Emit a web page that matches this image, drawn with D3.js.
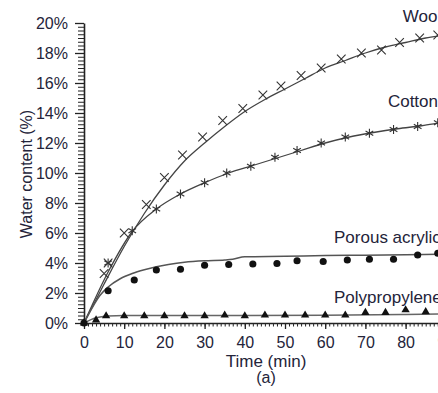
<!DOCTYPE html>
<html>
<head>
<script src="https://d3js.org/d3.v7.min.js"></script>
<style>
  body { margin: 0; background: #fff; }
  text { font-family: Arial, "Liberation Sans", sans-serif; fill: #24243a; }
</style>
</head>
<body>
<div id="chart"></div>
<script>
// measured points (time in min, water content in %)
const woolTime = [5, 6, 10, 15.5, 20, 24.5, 29.5, 34.5, 39.5, 44.5, 49, 54, 59, 64, 69, 74, 78.5, 83.5, 88];
const woolValue = [3.3, 4.0, 6.0, 7.9, 9.7, 11.2, 12.4, 13.5, 14.3, 15.2, 15.8, 16.5, 17.0, 17.6, 18.0, 18.2, 18.7, 19.0, 19.2];

const cottonTime = [6, 12, 18, 24, 30, 35.5, 41.5, 47.5, 53, 59, 65, 71, 77, 83, 88];
const cottonValue = [4.0, 6.15, 7.6, 8.6, 9.35, 10.0, 10.45, 11.05, 11.5, 12.0, 12.4, 12.65, 12.9, 13.1, 13.35];

const acrylicTime = [0, 6, 12.5, 18, 24, 30, 36, 42, 48, 53, 59.5, 65.5, 71, 77, 83, 88];
const acrylicValue = [0, 2.15, 2.87, 3.53, 3.58, 3.85, 3.9, 3.93, 3.97, 4.15, 4.1, 4.2, 4.25, 4.25, 4.53, 4.65];

const ppTime = [0, 3, 5.5, 10, 15, 20, 25, 30, 35, 40, 45, 50, 55, 60, 65, 70, 75, 80, 85];
const ppValue = [0, 0.2, 0.47, 0.47, 0.47, 0.47, 0.47, 0.47, 0.52, 0.47, 0.52, 0.52, 0.52, 0.52, 0.52, 0.69, 0.69, 0.87, 0.75];

// fitted curves
const woolFitTime = [0, 5, 10, 15, 20, 25, 30, 35, 40, 45, 50, 55, 60, 65, 70, 75, 80, 85, 90, 100];
const woolFitValue = [0, 2.6, 5.1, 7.3, 9.2, 10.8, 12.0, 13.1, 14.1, 14.9, 15.6, 16.3, 17.0, 17.5, 18.0, 18.4, 18.7, 19.0, 19.2, 19.6];

const cottonFitTime = [0, 6, 12, 18, 24, 30, 36, 42, 48, 54, 60, 66, 72, 78, 84, 90, 100];
const cottonFitValue = [0, 3.4, 6.1, 7.6, 8.6, 9.35, 10.0, 10.5, 11.0, 11.5, 12.0, 12.4, 12.7, 12.95, 13.15, 13.4, 13.7];

const acrylicFitTime = [0, 2, 4, 6, 9, 12, 15, 18, 21, 25, 30, 35, 37, 40, 50, 60, 70, 80, 90, 100];
const acrylicFitValue = [0, 1.0, 1.85, 2.4, 2.95, 3.3, 3.55, 3.75, 3.9, 4.05, 4.15, 4.2, 4.25, 4.42, 4.45, 4.5, 4.52, 4.55, 4.6, 4.62];

const ppFitTime = [0, 3, 6, 10, 20, 40, 60, 80, 90, 100];
const ppFitValue = [0, 0.35, 0.47, 0.5, 0.5, 0.5, 0.52, 0.57, 0.6, 0.62];

const labels = ["Wool", "Cotton", "Porous acrylic", "Polypropylene"];
const labelTime = [79.3, 75.6, 62.2, 62.2];
const labelValue = [20.1, 14.4, 5.33, 1.33];

const xTicks = d3.range(0, 101, 10);
const yTicks = d3.range(0, 21, 2);

const width = 438, height = 393;

const svg = d3.select("#chart").append("svg")
  .attr("width", width).attr("height", height);

const x = d3.scaleLinear().domain([0, 100]).range([84, 486]);
const y = d3.scaleLinear().domain([0, 20]).range([323, 23]);

// y axis minor + major
svg.append("g")
  .attr("transform", "translate(84,0)")
  .call(d3.axisLeft(y).tickValues(d3.range(0, 20.01, 0.25)).tickSize(6).tickFormat(""))
  .call(g => g.select(".domain").remove())
  .selectAll("line").attr("stroke", "#222");

svg.append("g")
  .attr("transform", "translate(84,0)")
  .call(d3.axisLeft(y).tickValues(yTicks).tickSize(9).tickSizeOuter(0).tickPadding(7)
    .tickFormat(d => d + "%"))
  .call(g => g.select(".domain").attr("stroke", "#222").attr("stroke-width", 1.6))
  .call(g => g.selectAll("line").attr("stroke", "#222").attr("stroke-width", 1.3))
  .call(g => g.selectAll("text").attr("font-size", 16).attr("fill", "#24243a")
    .attr("font-family", "Arial, 'Liberation Sans', sans-serif"));

// x axis minor + major
svg.append("g")
  .attr("transform", "translate(0,323)")
  .call(d3.axisBottom(x).tickValues(d3.range(0, 101, 1)).tickSize(3.5).tickFormat(""))
  .call(g => g.select(".domain").remove())
  .selectAll("line").attr("stroke", "#222");

svg.append("g")
  .attr("transform", "translate(0,323)")
  .call(d3.axisBottom(x).tickValues(xTicks).tickSize(6).tickSizeOuter(0).tickPadding(8))
  .call(g => g.select(".domain").attr("stroke", "#222").attr("stroke-width", 1.6))
  .call(g => g.selectAll("line").attr("stroke", "#222").attr("stroke-width", 1.3))
  .call(g => g.selectAll("text").attr("font-size", 16).attr("fill", "#24243a")
    .attr("font-family", "Arial, 'Liberation Sans', sans-serif"));

// fitted curves
const lineGen = d3.line().x(d => x(d[0])).y(d => y(d[1])).curve(d3.curveMonotoneX);
const fits = [
  [woolFitTime, woolFitValue, "#444", 1.3],
  [cottonFitTime, cottonFitValue, "#444", 1.3],
  [acrylicFitTime, acrylicFitValue, "#555", 1.5],
  [ppFitTime, ppFitValue, "#666", 1.5]
];
fits.forEach(([t, v, c, w]) => {
  svg.append("path")
    .datum(d3.zip(t, v))
    .attr("fill", "none")
    .attr("stroke", c)
    .attr("stroke-width", w)
    .attr("d", lineGen);
});

// markers
const markerSets = [
  [woolTime, woolValue, d3.symbolTimes, 50, "stroke"],
  [cottonTime, cottonValue, d3.symbolAsterisk, 55, "stroke"],
  [acrylicTime, acrylicValue, d3.symbolCircle, 40, "fill"],
  [ppTime, ppValue, d3.symbolTriangle, 30, "fill"]
];
markerSets.forEach(([t, v, type, size, mode]) => {
  svg.append("g").selectAll("path")
    .data(d3.zip(t, v))
    .join("path")
    .attr("transform", d => `translate(${x(d[0])},${y(d[1])})`)
    .attr("d", d3.symbol().type(type).size(size))
    .attr("fill", mode === "fill" ? "#111" : "none")
    .attr("stroke", mode === "stroke" ? "#333" : "none")
    .attr("stroke-width", 1.1);
});

// series labels
svg.append("g").selectAll("text")
  .data(labels)
  .join("text")
  .attr("x", (d, i) => x(labelTime[i]))
  .attr("y", (d, i) => y(labelValue[i]))
  .attr("font-size", 17)
  .text(d => d);

// axis titles
svg.append("text")
  .attr("transform", "translate(26,174) rotate(-90)")
  .attr("text-anchor", "middle")
  .attr("dominant-baseline", "central")
  .attr("font-size", 16)
  .text("Water content (%)");

svg.append("text")
  .attr("x", 266).attr("y", 367)
  .attr("text-anchor", "middle")
  .attr("font-size", 17)
  .text("Time (min)");

svg.append("text")
  .attr("x", 266).attr("y", 383)
  .attr("text-anchor", "middle")
  .attr("font-size", 16)
  .text("(a)");
</script>
</body>
</html>
